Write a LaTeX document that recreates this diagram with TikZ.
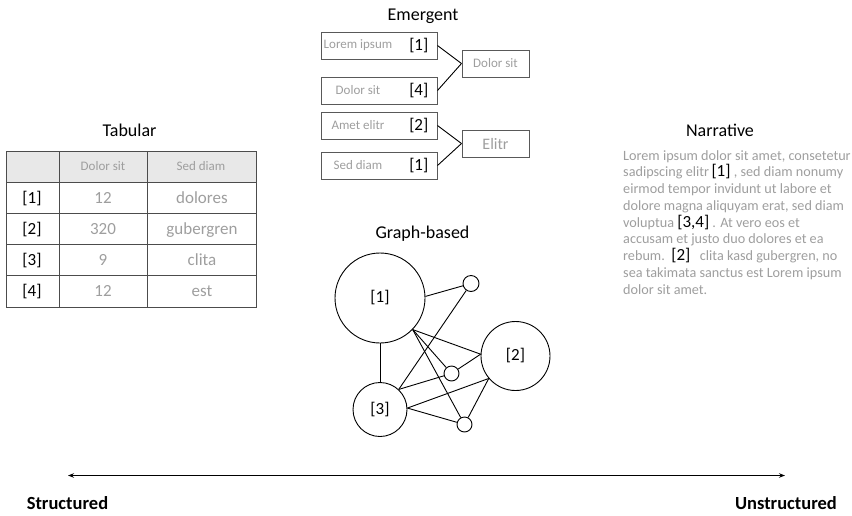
\documentclass[tikz,border=0pt]{standalone}
\usepackage{fontspec}
\setmainfont{Carlito}
\usetikzlibrary{arrows.meta}

\begin{document}
\begin{tikzpicture}[x=1pt,y=-1pt]
  \def\rowh{31.2}      % table row height
  \def\tabtop{151}     % top of table
  \def\lineh{16.75}    % narrative line spacing
  \def\linetop{160}    % first narrative baseline

  \tikzstyle{title}=[inner sep=0,anchor=base,font=\fontsize{18}{21}\selectfont]
  \tikzstyle{blur}=[inner sep=0,text=black!38,font=\fontsize{13}{15}\selectfont]
  \tikzstyle{refno}=[inner sep=0,font=\fontsize{17}{20}\selectfont]
  \tikzstyle{ebox}=[draw=black!65,line width=1pt,minimum height=27pt,inner sep=0]
  \tikzstyle{dot}=[draw,circle,line width=0.9pt,inner sep=0,font=\fontsize{17}{20}\selectfont]
  \tikzstyle{link}=[line width=0.9pt]
  \tikzstyle{grid}=[line width=1pt,black!70]
  \def\citemark#1{{\color{black}\fontsize{17}{20}\selectfont[#1]}}

  \useasboundingbox (0,0) rectangle (852,515);

  % EMERGENT
  \node[title] (emtitle) at (423,20) {Emergent};
  \foreach \y/\t/\r [count=\k] in {45.5/Lorem ipsum/1, 90.5/Dolor sit/4, 125.5/Amet elitr/2, 165.5/Sed diam/1}{
    \node[ebox,minimum width=116pt] (e\k) at (379,\y) {};
    \node[blur] (et\k) at ([xshift=-21pt]e\k.center) {\t};
    \node[refno,anchor=east] (er\k) at ([xshift=-9pt]e\k.east) {[\r]};
  }
  \node[ebox,minimum width=67pt,text=black!38,font=\fontsize{13}{15}\selectfont] (d1) at (495.5,63.5) {Dolor sit};
  \node[ebox,minimum width=67pt,text=black!38,font=\fontsize{16}{18}\selectfont] (d2) at (495.5,143.5) {Elitr};
  \draw[link] (e1.east) -- (d1.west);
  \draw[link] (e2.east) -- (d1.west);
  \draw[link] (e3.east) -- (d2.west);
  \draw[link] (e4.east) -- (d2.west);

  % TABULAR
  \node[title] (tabtitle) at (129.5,136) {Tabular};
  \fill[black!9] (6,\tabtop) rectangle (256,\tabtop+\rowh);
  \draw[grid] (6,\tabtop) rectangle (256,\tabtop+5*\rowh);
  \foreach \k in {1,...,4}
    \draw[grid] (6,{\tabtop+\k*\rowh}) -- (256,{\tabtop+\k*\rowh});
  \draw[grid] (59,\tabtop) -- (59,\tabtop+5*\rowh);
  \draw[grid] (147,\tabtop) -- (147,\tabtop+5*\rowh);
  \node[blur,anchor=base] (hd1) at (103,{\tabtop+0.5*\rowh+4.3}) {Dolor sit};
  \node[blur,anchor=base] (hd2) at (201,{\tabtop+0.5*\rowh+4.3}) {Sed diam};
  \foreach \r/\a/\b [count=\k] in {1/12/dolores, 2/320/gubergren, 3/9/clita, 4/12/est}{
    \node[refno,anchor=base] (rw\k) at (32,{\tabtop+(\k+0.5)*\rowh+5.5}) {[\r]};
    \node[blur,anchor=base,font=\fontsize{17}{20}\selectfont] (va\k) at (103,{\tabtop+(\k+0.5)*\rowh+5.5}) {\a};
    \node[blur,anchor=base,font=\fontsize{17}{20}\selectfont] (vb\k) at (202,{\tabtop+(\k+0.5)*\rowh+5.5}) {\b};
  }

  % NARRATIVE
  \node[title] (nartitle) at (720,136) {Narrative};
  \foreach \l [count=\k] in {
      {Lorem ipsum dolor sit amet, consetetur},
      {sadipscing elitr\,\citemark{1} , sed diam nonumy},
      {eirmod tempor invidunt ut labore et},
      {dolore magna aliquyam erat, sed diam},
      {voluptua \citemark{3,4} . At vero eos et},
      {accusam et justo duo dolores et ea},
      {rebum.\ \ \citemark{2}\ \ \ clita kasd gubergren, no},
      {sea takimata sanctus est Lorem ipsum},
      {dolor sit amet.}}
    \node[blur,anchor=base west,font=\fontsize{14.2}{16}\selectfont] (line\k) at (623,{\linetop+(\k-1)*\lineh}) {\l};

  % GRAPH-BASED
  \node[title] (grtitle) at (422.5,238.3) {Graph-based};
  \node[dot,minimum size=90pt] (n1) at (380,298) {[1]};
  \node[dot,minimum size=69pt] (n2) at (515.5,356) {[2]};
  \node[dot,minimum size=54pt] (n3) at (380,409.5) {[3]};
  \node[dot,minimum size=16pt] (s1) at (471,283.5) {};
  \node[dot,minimum size=15pt] (s2) at (451.5,373.5) {};
  \node[dot,minimum size=15pt] (s3) at (464.5,424.5) {};
  \draw[link] (n1.2) -- (s1);
  \draw[link] (n1) -- (n3);
  \draw[link] (n3.47) -- (s1);
  \draw[link] (n3.47) -- (s2);
  \draw[link] (n1.-44) -- (n2.177);
  \draw[link] (n1.-44) -- (s2);
  \draw[link] (n1.-44) -- (s3);
  \draw[link] (s2) -- (n2.177);
  \draw[link] (n3.3) -- (n2.220);
  \draw[link] (n3.3) -- (s3);
  \draw[link] (s3) -- (n2.220);

  % AXIS
  \coordinate (axl) at (68,475.5);
  \coordinate (axr) at (785,475.5);
  \draw[{Stealth[length=6pt,width=4.5pt]}-{Stealth[length=6pt,width=4.5pt]},line width=0.9pt] (axl) -- (axr);
  \node[inner sep=0,anchor=base,font=\bfseries\fontsize{18.5}{21}\selectfont] (struct) at (67.5,509.3) {Structured};
  \node[inner sep=0,anchor=base,font=\bfseries\fontsize{18.5}{21}\selectfont] (unstruct) at (786,509.3) {Unstructured};
\end{tikzpicture}
\end{document}
